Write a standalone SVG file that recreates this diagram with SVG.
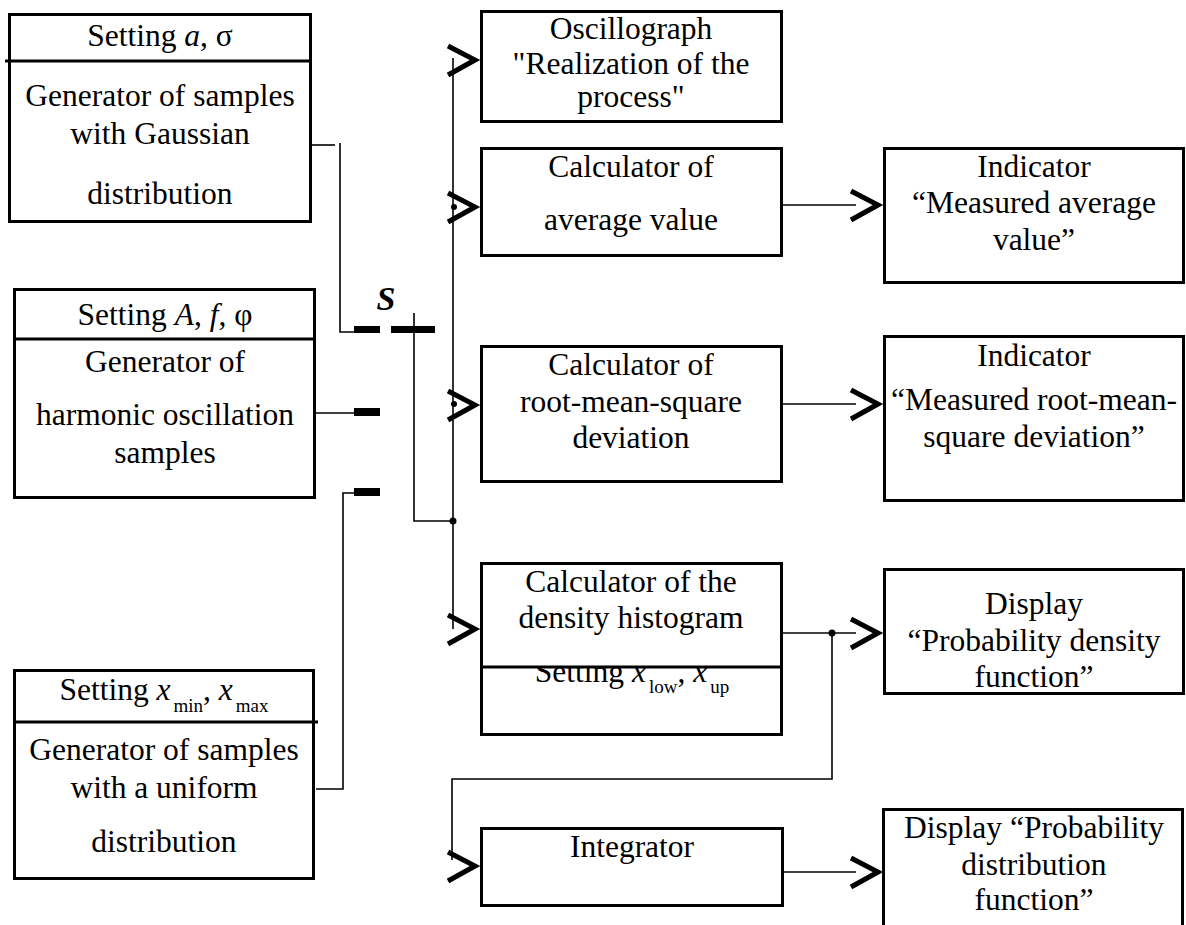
<svg xmlns="http://www.w3.org/2000/svg" xmlns:xlink="http://www.w3.org/1999/xlink" width="1186" height="925" viewBox="0 0 1186 925">
<style>
  text { font-family: "Liberation Serif", "Times New Roman", serif; font-size: 31.5px; fill: #000; text-anchor: middle; }
  .box { fill: #fff; stroke: #000; stroke-width: 3; }
  .div { stroke: #000; stroke-width: 3; }
  .wire { fill: none; stroke: #000; stroke-width: 1.6; }
  .bar { fill: #000; }
  .dot { fill: #000; }
  .it { font-style: italic; }
  .sub { font-size: 19px; }
  .lbl { font-weight: bold; font-style: italic; font-size: 34px; }
</style>
<defs>
  <path id="chev" d="M-31,-14 L-4,0 L-31,15" fill="none" stroke="#000" stroke-width="5"/>
</defs>
<rect width="1186" height="925" fill="#fff"/>

<g id="gen-gauss">
  <rect class="box" x="9.5" y="14.5" width="301" height="207"/>
  <line class="div" x1="5" y1="61" x2="312" y2="61"/>
  <text x="160" y="46">Setting <tspan class="it">a</tspan>, σ</text>
  <text x="160" y="106">Generator of samples</text>
  <text x="160" y="144">with Gaussian</text>
  <text x="160" y="204">distribution</text>
</g>

<g id="gen-harmonic">
  <rect class="box" x="14.5" y="289.5" width="300" height="208"/>
  <line class="div" x1="13" y1="339" x2="316" y2="339"/>
  <text x="165" y="325">Setting <tspan class="it">A</tspan>, <tspan class="it">f</tspan>, φ</text>
  <text x="165" y="372">Generator of</text>
  <text x="165" y="425">harmonic oscillation</text>
  <text x="165" y="463">samples</text>
</g>

<g id="gen-uniform">
  <rect class="box" x="14.5" y="670.5" width="299" height="208"/>
  <line class="div" x1="13" y1="722" x2="318" y2="722"/>
  <text x="164" y="700">Setting <tspan class="it">x</tspan><tspan class="sub" dx="3" dy="12">min</tspan><tspan dy="-12">, </tspan><tspan class="it">x</tspan><tspan class="sub" dx="3" dy="12">max</tspan></text>
  <text x="164" y="760">Generator of samples</text>
  <text x="164" y="798">with a uniform</text>
  <text x="164" y="852">distribution</text>
</g>

<g id="switch">
  <rect class="bar" x="354" y="326" width="26" height="7"/>
  <rect class="bar" x="354" y="408" width="26" height="8"/>
  <rect class="bar" x="354" y="488" width="26" height="8"/>
  <rect class="bar" x="391" y="326" width="44" height="7"/>
  <text class="lbl" x="386" y="310">S</text>
</g>

<g id="oscillograph">
  <rect class="box" x="481.5" y="11.5" width="300" height="110"/>
  <text x="631" y="39">Oscillograph</text>
  <text x="631" y="74">"Realization of the</text>
  <text x="631" y="107">process"</text>
</g>

<g id="calc-average">
  <rect class="box" x="481.5" y="148.5" width="300" height="107"/>
  <text x="631" y="177">Calculator of</text>
  <text x="631" y="230">average value</text>
</g>

<g id="ind-average">
  <rect class="box" x="884.5" y="148.5" width="299" height="134"/>
  <text x="1034" y="177">Indicator</text>
  <text x="1034" y="213">“Measured average</text>
  <text x="1034" y="250">value”</text>
</g>

<g id="calc-rms">
  <rect class="box" x="481.5" y="346.5" width="300" height="135"/>
  <text x="631" y="375">Calculator of</text>
  <text x="631" y="412">root-mean-square</text>
  <text x="631" y="448">deviation</text>
</g>

<g id="ind-rms">
  <rect class="box" x="884.5" y="336.5" width="299" height="164"/>
  <text x="1034" y="366">Indicator</text>
  <text x="1034" y="410">“Measured root-mean-</text>
  <text x="1034" y="447">square deviation”</text>
</g>

<g id="calc-histogram">
  <rect class="box" x="481.5" y="563.5" width="300" height="171"/>
  <text x="632" y="682">Setting <tspan class="it">x</tspan><tspan class="sub" dx="3" dy="11">low</tspan><tspan dy="-11">, </tspan><tspan class="it">x</tspan><tspan class="sub" dx="3" dy="11">up</tspan></text>
  <rect class="box" x="481.5" y="563.5" width="300" height="103.5"/>
  <text x="631" y="592">Calculator of the</text>
  <text x="631" y="628">density histogram</text>
</g>

<g id="display-density">
  <rect class="box" x="884.5" y="569.5" width="299" height="124"/>
  <text x="1034" y="614">Display</text>
  <text x="1034" y="651">“Probability density</text>
  <text x="1034" y="687">function”</text>
</g>

<g id="integrator">
  <rect class="box" x="481.5" y="828.5" width="301" height="77"/>
  <text x="632" y="857">Integrator</text>
</g>

<g id="display-distribution">
  <rect class="box" x="883.5" y="809.5" width="299" height="140"/>
  <text x="1034" y="838">Display “Probability</text>
  <text x="1034" y="875">distribution</text>
  <text x="1034" y="910">function”</text>
</g>

<g id="connectors">
  <line class="wire" x1="312" y1="145" x2="335" y2="145"/>
  <path class="wire" d="M340,143 V332 H354"/>
  <line class="wire" x1="316" y1="413" x2="354" y2="413"/>
  <path class="wire" d="M316,789 H343 V493 H354"/>
  <path class="wire" d="M414,313 V521 H453"/>
  <line class="wire" x1="453" y1="58" x2="453" y2="629"/>
  <circle class="dot" cx="453" cy="521" r="3.5"/>
  <circle class="dot" cx="454" cy="207" r="3"/>
  <circle class="dot" cx="454" cy="404" r="3"/>
  <use xlink:href="#chev" x="479" y="60"/>
  <use xlink:href="#chev" x="479" y="207"/>
  <use xlink:href="#chev" x="479" y="405"/>
  <use xlink:href="#chev" x="479" y="629"/>
  <line class="wire" x1="783" y1="205" x2="856" y2="205"/>
  <use xlink:href="#chev" x="882" y="205"/>
  <line class="wire" x1="783" y1="404" x2="856" y2="404"/>
  <use xlink:href="#chev" x="882" y="404"/>
  <line class="wire" x1="783" y1="633" x2="856" y2="633"/>
  <use xlink:href="#chev" x="882" y="633"/>
  <circle class="dot" cx="832" cy="633" r="3.5"/>
  <path class="wire" d="M832,633 V779 H452 V860"/>
  <use xlink:href="#chev" x="479" y="866"/>
  <line class="wire" x1="784" y1="872" x2="856" y2="872"/>
  <use xlink:href="#chev" x="882" y="872"/>
</g>
</svg>
